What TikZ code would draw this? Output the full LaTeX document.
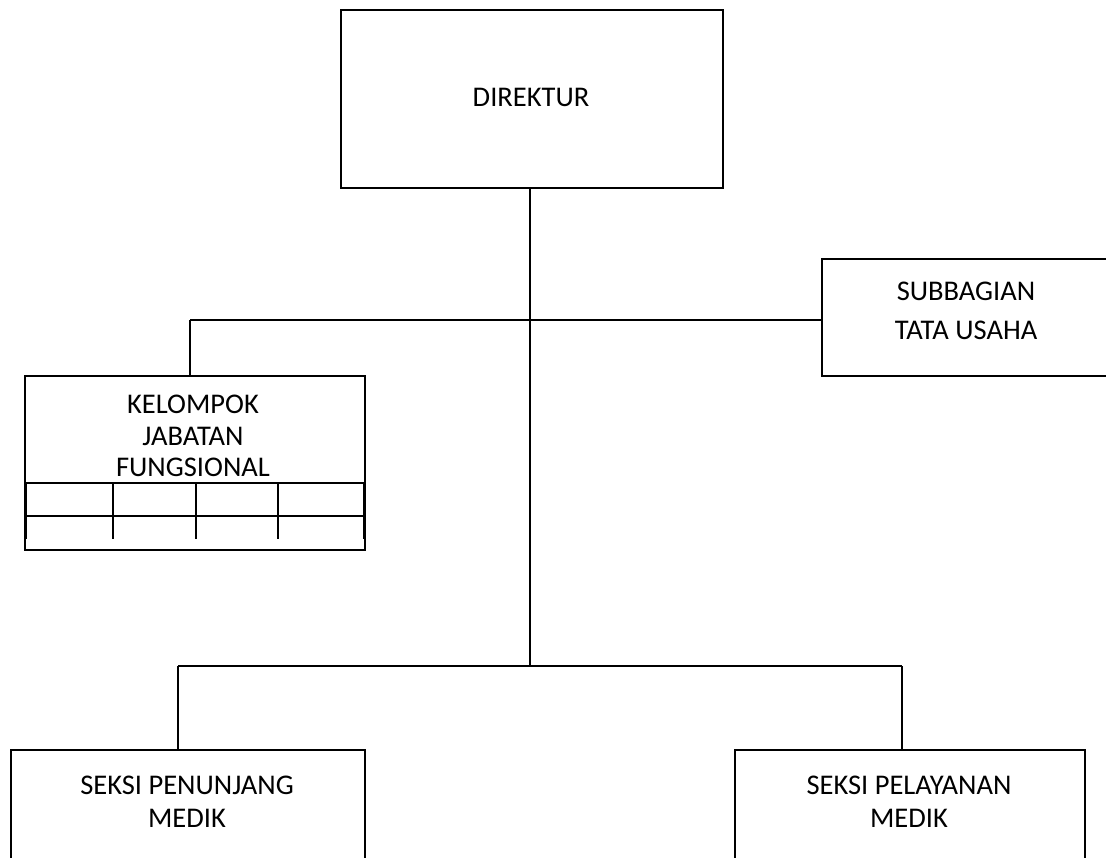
\documentclass[tikz,border=0pt]{standalone}
\usepackage{fontspec}
\setmainfont{Carlito}
\begin{document}
\begin{tikzpicture}[x=1pt,y=-1pt,
  box/.style={draw,line width=1.6pt,inner sep=0pt,anchor=north west},
  lbl/.style={inner sep=0pt,align=center,font=\fontsize{28.5}{#1}\selectfont},
  lbl/.default=33,
  conn/.style={line width=1.6pt},
  thick side/.style={line width=3pt}]
\useasboundingbox (0,0) rectangle (1106,857);
\clip (0,0) rectangle (1106,857);
\fill[white] (0,0) rectangle (1106,857);
% boxes
\node[box,minimum width=382pt,minimum height=178pt] (dir) at (340,9) {};
\node[box,minimum width=300pt,minimum height=117pt] (sub) at (821,258) {};
\node[box,minimum width=340pt,minimum height=174pt] (kel) at (24,375) {};
\node[box,minimum width=354pt,minimum height=140pt] (pen) at (10,749) {};
\node[box,minimum width=350pt,minimum height=140pt] (pel) at (734,749) {};
% texts
\node[lbl] (tdir) at (531,97) {DIREKTUR};
\node[lbl=39] (tsub) at (966,311) {SUBBAGIAN\\TATA USAHA};
\node[lbl=31.7] (tkel) at (193,436) {KELOMPOK\\JABATAN\\FUNGSIONAL};
\node[lbl] (tpen) at (187,802) {SEKSI PENUNJANG\\MEDIK};
\node[lbl] (tpel) at (909,802) {SEKSI PELAYANAN\\MEDIK};
% table inside KELOMPOK box
\coordinate (t1) at (24,483);
\coordinate (t2) at (364,483);
\coordinate (t3) at (24,516);
\coordinate (t4) at (364,516);
\draw[conn] (t1) -- (t2);
\draw[conn] (t3) -- (t4);
\foreach \xx in {113,196,278}{\draw[conn] (\xx,483) -- (\xx,539);}
\draw[thick side] (25,483) -- (25,539);
\draw[thick side] (364.5,483) -- (364.5,539);
% connectors
\coordinate (j1) at (530,320);
\coordinate (j2) at (530,666);
\coordinate (jl) at (190,320);
\coordinate (bl) at (178,666);
\coordinate (br) at (902,666);
\draw[conn] (dir.south -| j1) -- (j2);
\draw[conn] (jl) -- (sub.west |- j1);
\draw[conn] (jl) -- (kel.north -| jl);
\draw[conn] (bl) -- (br);
\draw[conn] (bl) -- (pen.north -| bl);
\draw[conn] (br) -- (pel.north -| br);
\end{tikzpicture}
\end{document}
